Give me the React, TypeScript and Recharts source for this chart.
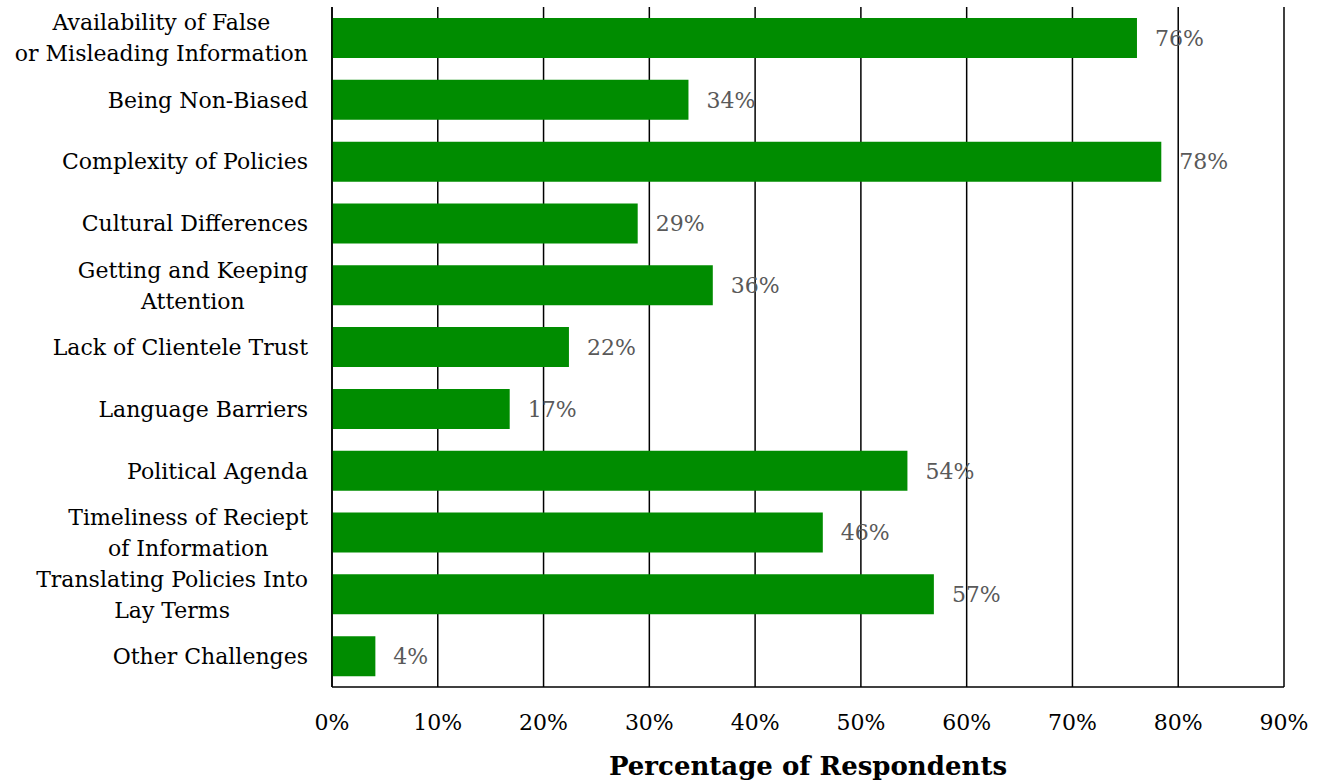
import React from 'react'
import { BarChart, Bar, XAxis, YAxis, CartesianGrid, LabelList } from 'recharts'

const categories = [
  'Availability of False\nor Misleading Information',
  'Being Non-Biased',
  'Complexity of Policies',
  'Cultural Differences',
  'Getting and Keeping\nAttention',
  'Lack of Clientele Trust',
  'Language Barriers',
  'Political Agenda',
  'Timeliness of Reciept\nof Information',
  'Translating Policies Into\nLay Terms',
  'Other Challenges',
]

const shares = [76.1, 33.7, 78.4, 28.9, 36.0, 22.4, 16.8, 54.4, 46.4, 56.9, 4.1]

const xTicks = [0, 10, 20, 30, 40, 50, 60, 70, 80, 90]

const data = categories.map((name, i) => ({ name, value: shares[i] }))

const FONT = '"DejaVu Serif", serif'
const TICK_SIZE = 22

let ctx: CanvasRenderingContext2D | null = null
function textWidth(s: string) {
  if (!ctx) ctx = document.createElement('canvas').getContext('2d')
  if (!ctx) return s.length * TICK_SIZE * 0.55
  ctx.font = `${TICK_SIZE}px ${FONT}`
  return ctx.measureText(s).width
}

// multi-line labels: block right-aligned to the axis, lines centred in the block
function CategoryTick(props: any) {
  const { x, y, payload } = props
  const lines: string[] = String(payload.value).split('\n')
  const lh = 31
  const start = -((lines.length - 1) * lh) / 2
  const right = x - 16
  const blockW = Math.max(...lines.map(textWidth))
  const cx = lines.length > 1 ? right - blockW / 2 : right
  return (
    <text
      x={cx}
      y={y}
      textAnchor={lines.length > 1 ? 'middle' : 'end'}
      fontFamily={FONT}
      fontSize={TICK_SIZE}
      fill="#000"
    >
      {lines.map((l, i) => (
        <tspan key={i} x={cx} y={y + start + i * lh} dy="0.36em">
          {l}
        </tspan>
      ))}
    </text>
  )
}

export default function App() {
  return (
    <div style={{ position: 'absolute', left: 0, top: 0, width: 1322, height: 784, background: '#fff' }}>
      <BarChart
        width={1322}
        height={784}
        data={data}
        layout="vertical"
        margin={{ top: 7, right: 38, bottom: 0, left: 0 }}
      >
        <CartesianGrid horizontal={false} stroke="#000" strokeWidth={1.5} />
        <XAxis
          type="number"
          domain={[0, 90]}
          ticks={xTicks}
          tickFormatter={(v: number) => `${v}%`}
          tick={{ fill: '#000', fontSize: TICK_SIZE, fontFamily: FONT }}
          tickLine={false}
          axisLine={{ stroke: '#000', strokeWidth: 1.5 }}
          tickMargin={21}
          height={97}
          label={{
            value: 'Percentage of Respondents',
            position: 'insideBottom',
            offset: 9,
            fill: '#000',
            fontSize: 26,
            fontWeight: 'bold',
            fontFamily: FONT,
          }}
        />
        <YAxis
          type="category"
          dataKey="name"
          width={332}
          tick={<CategoryTick />}
          tickLine={false}
          axisLine={{ stroke: '#000', strokeWidth: 1.5 }}
          interval={0}
        />
        <Bar dataKey="value" fill="#008C00" barSize={40} isAnimationActive={false}>
          <LabelList
            dataKey="value"
            position="right"
            offset={18}
            formatter={(v: number) => `${Math.round(v)}%`}
            fill="#595959"
            fontSize={TICK_SIZE}
            fontFamily={FONT}
          />
        </Bar>
      </BarChart>
    </div>
  )
}
